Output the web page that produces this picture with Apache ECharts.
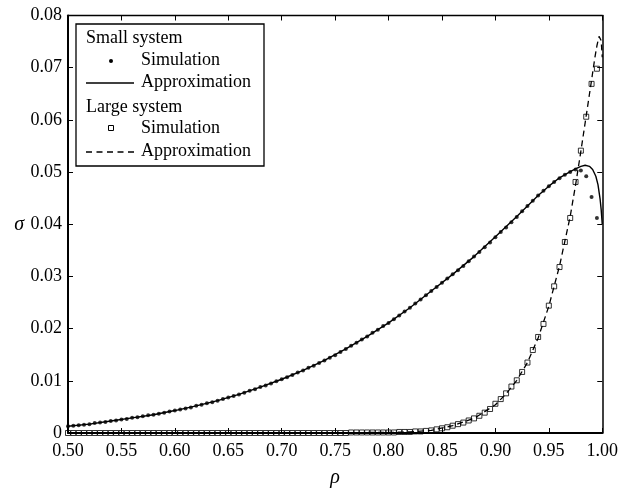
<!DOCTYPE html>
<html>
<head>
<meta charset="utf-8">
<script src="https://cdn.jsdelivr.net/npm/echarts@6/dist/echarts.min.js"></script>
<style>
html,body{margin:0;padding:0;background:#fff;}
#chart{width:621px;height:493px;}
</style>
</head>
<body>
<div id="chart"></div>
<script>
// x ticks / y ticks
var xTicks = [0.50,0.55,0.60,0.65,0.70,0.75,0.80,0.85,0.90,0.95,1.00];
var yTicks = [0,0.01,0.02,0.03,0.04,0.05,0.06,0.07,0.08];

// simulation abscissae (rho)
var rhoSim = [0.500,0.505,0.510,0.515,0.520,0.525,0.530,0.535,0.540,0.545,
0.550,0.555,0.560,0.565,0.570,0.575,0.580,0.585,0.590,0.595,
0.600,0.605,0.610,0.615,0.620,0.625,0.630,0.635,0.640,0.645,
0.650,0.655,0.660,0.665,0.670,0.675,0.680,0.685,0.690,0.695,
0.700,0.705,0.710,0.715,0.720,0.725,0.730,0.735,0.740,0.745,
0.750,0.755,0.760,0.765,0.770,0.775,0.780,0.785,0.790,0.795,
0.800,0.805,0.810,0.815,0.820,0.825,0.830,0.835,0.840,0.845,
0.850,0.855,0.860,0.865,0.870,0.875,0.880,0.885,0.890,0.895,
0.900,0.905,0.910,0.915,0.920,0.925,0.930,0.935,0.940,0.945,
0.950,0.955,0.960,0.965,0.970,0.975,0.980,0.985,0.990,0.995];

// small system simulation (dots)
var smallSim = [0.0013,0.0014,0.0015,0.0016,0.0017,0.0019,0.0020,0.0021,0.0023,0.0024,
0.0026,0.0027,0.0029,0.0030,0.0032,0.0034,0.0035,0.0037,0.0039,0.0041,
0.0043,0.0045,0.0047,0.0049,0.0052,0.0054,0.0057,0.0059,0.0062,0.0065,
0.0068,0.0071,0.0074,0.0077,0.0081,0.0084,0.0088,0.0091,0.0095,0.0099,
0.0103,0.0107,0.0111,0.0116,0.0120,0.0125,0.0129,0.0134,0.0139,0.0144,
0.0149,0.0155,0.0161,0.0167,0.0173,0.0179,0.0185,0.0192,0.0198,0.0205,
0.0211,0.0218,0.0225,0.0233,0.0240,0.0248,0.0256,0.0264,0.0272,0.0280,
0.0288,0.0296,0.0304,0.0312,0.0320,0.0329,0.0338,0.0347,0.0356,0.0365,
0.0375,0.0385,0.0394,0.0404,0.0414,0.0425,0.0435,0.0445,0.0455,0.0464,
0.0473,0.0481,0.0488,0.0495,0.0500,0.0505,0.0503,0.0492,0.0452,0.0412];

// large system simulation (squares)
var largeSim = [0,0,0,0,0,0,0,0,0,0,
0,0,0,0,0,0,0,0,0,0,
0,0,0,0,0,0,0,0,0,0,
0,0,0,0,0,0,0,0,0,0,
0,0,0,0,0,0,0,0,0,0,
0,0,0,0.0001,0.0001,0.0001,0.0001,0.0001,0.0001,0.0001,
0.0001,0.0001,0.0002,0.0002,0.0002,0.0003,0.0003,0.0004,0.0005,0.0007,
0.0009,0.0011,0.0014,0.0017,0.0020,0.0024,0.0028,0.0033,0.0039,0.0046,
0.0056,0.0065,0.0076,0.0089,0.0101,0.0117,0.0135,0.0159,0.0184,0.0209,
0.0244,0.0281,0.0318,0.0366,0.0412,0.0481,0.0541,0.0606,0.0669,0.0698];

// small system approximation (solid line)
var rhoSmallApprox = [0.50,0.52,0.54,0.56,0.58,0.60,0.62,0.64,0.66,0.68,0.70,0.72,0.74,0.76,0.78,0.80,0.82,0.84,0.86,0.88,0.90,0.92,0.94,0.95,0.96,0.97,0.975,0.98,0.984,0.988,0.991,0.994,0.996,0.998,0.999,1.0];
var smallApprox = [0.0013,0.0017,0.0023,0.0029,0.0035,0.0043,0.0052,0.0062,0.0074,0.0088,0.0103,0.0120,0.0139,0.0161,0.0185,0.0211,0.0240,0.0272,0.0304,0.0338,0.0376,0.0415,0.0455,0.0473,0.0489,0.0501,0.0506,0.0511,0.0513,0.0511,0.0505,0.0492,0.0476,0.0448,0.0428,0.0400];

// large system approximation (dashed line)
var rhoLargeApprox = [0.50,0.55,0.60,0.65,0.70,0.75,0.78,0.80,0.82,0.84,0.86,0.88,0.90,0.91,0.92,0.93,0.94,0.95,0.96,0.97,0.975,0.98,0.985,0.99,0.993,0.995,0.997,0.998,0.999,1.0];
var largeApprox = [0,0,0,0,0,0,0.0001,0.0001,0.0002,0.0005,0.0014,0.0028,0.0054,0.0075,0.0101,0.0135,0.0182,0.0243,0.0320,0.0415,0.0475,0.0540,0.0608,0.0676,0.0718,0.0742,0.0760,0.0762,0.0752,0.0720];

function zip(a,b){var r=[];for(var i=0;i<a.length;i++){r.push([a[i],b[i]]);}return r;}

var FONT = '"Liberation Serif","Times New Roman",serif';
var chart = echarts.init(document.getElementById('chart'), null, {renderer:'canvas'});

var gLeft=68, gRight=17, gTop=15.5, gBottom=54.5;

var option = {
  animation:false,
  backgroundColor:'#fff',
  grid:{left:gLeft,right:gRight,top:gTop,bottom:gBottom,containLabel:false},
  xAxis:[{
    type:'value', min:0.5, max:1.0, interval:0.05, position:'bottom',
    axisLine:{show:true,onZero:false,lineStyle:{color:'#000',width:2}},
    axisTick:{show:true,inside:true,length:5,lineStyle:{color:'#000',width:1}},
    splitLine:{show:false},
    axisLabel:{color:'#000',fontFamily:FONT,fontSize:18,margin:9,
      formatter:function(v){return v.toFixed(2);}},
    name:'ρ', nameLocation:'middle', nameGap:35,
    nameTextStyle:{color:'#000',fontFamily:FONT,fontSize:20,fontStyle:'italic'}
  },{
    type:'value', min:0.5, max:1.0, interval:0.05, position:'top',
    axisLine:{show:true,onZero:false,lineStyle:{color:'#000',width:1.3}},
    axisTick:{show:true,inside:true,length:5,lineStyle:{color:'#000',width:1}},
    axisLabel:{show:false}, splitLine:{show:false}
  }],
  yAxis:[{
    type:'value', min:0, max:0.08, interval:0.01, position:'left',
    axisLine:{show:true,onZero:false,lineStyle:{color:'#000',width:2}},
    axisTick:{show:true,inside:true,length:5,lineStyle:{color:'#000',width:1}},
    splitLine:{show:false},
    axisLabel:{color:'#000',fontFamily:FONT,fontSize:18,margin:6,
      formatter:function(v){return v===0?'0':v.toFixed(2);}},
    name:'σ', nameLocation:'middle', nameGap:44, nameRotate:0,
    nameTextStyle:{color:'#000',fontFamily:FONT,fontSize:20,fontStyle:'italic'}
  },{
    type:'value', min:0, max:0.08, interval:0.01, position:'right',
    axisLine:{show:true,onZero:false,lineStyle:{color:'#000',width:1.5}},
    axisTick:{show:true,inside:true,length:5,lineStyle:{color:'#000',width:1}},
    axisLabel:{show:false}, splitLine:{show:false}
  }],
  series:[
    {name:'Small system approximation', type:'line', data:zip(rhoSmallApprox,smallApprox),
      showSymbol:false, symbol:'none', lineStyle:{color:'#000',width:1.4}, z:3},
    {name:'Large system approximation', type:'line', data:zip(rhoLargeApprox,largeApprox),
      showSymbol:false, symbol:'none', lineStyle:{color:'#000',width:1.3,type:[6,4]}, z:3},
    {name:'Small system simulation', type:'scatter', data:zip(rhoSim,smallSim),
      symbol:'circle', symbolSize:4, itemStyle:{color:'#000'}, z:4},
    {name:'Large system simulation', type:'scatter', data:zip(rhoSim,largeSim),
      symbol:'rect', symbolSize:5, itemStyle:{color:'rgba(0,0,0,0)',borderColor:'#000',borderWidth:1}, z:4}
  ],
  graphic:[
    {type:'rect', z:100, shape:{x:76,y:24,width:188,height:142}, style:{fill:'#fff',stroke:'#000',lineWidth:1.3}},
    {type:'text', z:101, x:86, y:38, style:{text:'Small system', font:'18px '+FONT, fill:'#000', verticalAlign:'middle'}},
    {type:'circle', z:101, shape:{cx:111,cy:61,r:2}, style:{fill:'#000'}},
    {type:'text', z:101, x:141, y:60, style:{text:'Simulation', font:'18px '+FONT, fill:'#000', verticalAlign:'middle'}},
    {type:'line', z:101, shape:{x1:86,y1:83,x2:134,y2:83}, style:{stroke:'#000',lineWidth:1.4}},
    {type:'text', z:101, x:141, y:82, style:{text:'Approximation', font:'18px '+FONT, fill:'#000', verticalAlign:'middle'}},
    {type:'text', z:101, x:86, y:107, style:{text:'Large system', font:'18px '+FONT, fill:'#000', verticalAlign:'middle'}},
    {type:'rect', z:101, shape:{x:108.5,y:125.5,width:5,height:5}, style:{fill:'#fff',stroke:'#000',lineWidth:1}},
    {type:'text', z:101, x:141, y:128, style:{text:'Simulation', font:'18px '+FONT, fill:'#000', verticalAlign:'middle'}},
    {type:'line', z:101, shape:{x1:86,y1:152,x2:134,y2:152}, style:{stroke:'#000',lineWidth:1.3,lineDash:[6,4.5]}},
    {type:'text', z:101, x:141, y:151, style:{text:'Approximation', font:'18px '+FONT, fill:'#000', verticalAlign:'middle'}}
  ]
};
chart.setOption(option);
</script>
</body>
</html>
